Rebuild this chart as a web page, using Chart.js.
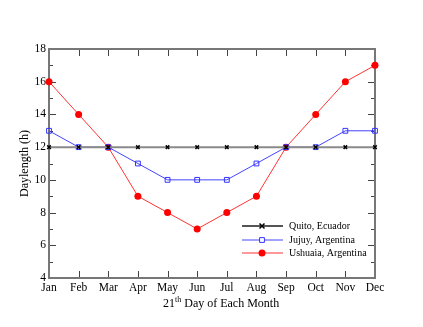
<!DOCTYPE html>
<html>
<head>
  <title>Daylength</title>
  <script src="https://cdn.jsdelivr.net/npm/chart.js"></script>
  <style>
    body { margin: 0; background: white; }
    canvas { display: block; }
  </style>
</head>
<body>
<canvas id="dayChart" width="423" height="327"></canvas>

<script>
const months = ['Jan','Feb','Mar','Apr','May','Jun','Jul','Aug','Sep','Oct','Nov','Dec'];
const quito = [12,12,12,12,12,12,12,12,12,12,12,12];
const jujuy = [13,12,12,11,10,10,10,11,12,12,13,13];
const ushuaia = [16,14,12,9,8,7,8,9,12,14,16,17];
const yTicks = [4,6,8,10,12,14,16,18];

const serif = '"Liberation Serif", "Times New Roman", serif';

// frame + inward ticks, drawn under the data
const framePlugin = {
  id: 'frame',
  beforeDatasetsDraw(chart) {
    const ctx = chart.ctx, a = chart.chartArea;
    const x = chart.scales.x, y = chart.scales.y;
    ctx.save();
    ctx.strokeStyle = '#444';
    ctx.lineWidth = 1;
    ctx.beginPath();
    for (let v = 4; v <= 18; v++) {
      const len = v % 2 === 0 ? 7 : 4;
      const py = Math.round(y.getPixelForValue(v)) + 0.5;
      ctx.moveTo(a.left, py); ctx.lineTo(a.left + len, py);
      ctx.moveTo(a.right, py); ctx.lineTo(a.right - len, py);
    }
    months.forEach((m, i) => {
      const px = Math.round(x.getPixelForValue(i)) + 0.5;
      ctx.moveTo(px, a.bottom); ctx.lineTo(px, a.bottom - 7);
      ctx.moveTo(px, a.top); ctx.lineTo(px, a.top + 7);
    });
    ctx.stroke();
    ctx.strokeStyle = '#777';
    ctx.lineWidth = 2;
    ctx.strokeRect(a.left, a.top, a.right - a.left, a.bottom - a.top);
    ctx.restore();
  },
  afterDraw(chart) {
    const ctx = chart.ctx, a = chart.chartArea;
    ctx.save();
    ctx.fillStyle = '#000';
    // y title
    ctx.font = '12px ' + serif;
    ctx.textAlign = 'center';
    ctx.textBaseline = 'middle';
    ctx.translate(25, (a.top + a.bottom) / 2);
    ctx.rotate(-Math.PI / 2);
    ctx.fillText('Daylength (h)', 0, 0);
    ctx.setTransform(1, 0, 0, 1, 0, 0);
    // x title with superscript
    ctx.textAlign = 'left';
    ctx.textBaseline = 'alphabetic';
    const base = 307;
    let px = 163;
    ctx.font = '12px ' + serif;
    ctx.fillText('21', px, base);
    px += ctx.measureText('21').width;
    ctx.font = '8px ' + serif;
    ctx.fillText('th', px, base - 5);
    px += ctx.measureText('th').width;
    ctx.font = '12px ' + serif;
    ctx.fillText(' Day of Each Month', px, base);
    // legend
    ctx.font = '10px ' + serif;
    ctx.textBaseline = 'middle';
    const rows = [226, 240, 253];
    chart.data.datasets.forEach((ds, i) => {
      const ly = rows[i];
      ctx.strokeStyle = ds.legendLine;
      ctx.lineWidth = ds.borderWidth;
      ctx.beginPath();
      ctx.moveTo(242, ly); ctx.lineTo(283, ly);
      ctx.stroke();
      ctx.fillStyle = ds.pointBackgroundColor;
      ctx.strokeStyle = ds.pointBorderColor;
      ctx.lineWidth = ds.pointBorderWidth;
      ctx.beginPath();
      if (ds.pointStyle === 'circle') {
        ctx.arc(262, ly, ds.pointRadius, 0, Math.PI * 2);
        ctx.fill();
      } else if (ds.pointStyle === 'rect') {
        const s = ds.pointRadius * Math.SQRT1_2;
        ctx.fillStyle = '#fff';
        ctx.rect(262 - s, ly - s, 2 * s, 2 * s);
        ctx.fill();
        ctx.stroke();
      } else {
        const s = ds.pointRadius;
        ctx.moveTo(262 - s, ly - s); ctx.lineTo(262 + s, ly + s);
        ctx.moveTo(262 + s, ly - s); ctx.lineTo(262 - s, ly + s);
        ctx.stroke();
      }
      ctx.fillStyle = '#000';
      ctx.fillText(ds.label, 289, ly);
    });
    ctx.restore();
  }
};

new Chart(document.getElementById('dayChart'), {
  type: 'line',
  data: {
    labels: months,
    datasets: [
      {
        label: 'Quito, Ecuador', data: quito,
        borderColor: '#8a8a8a', legendLine: '#555', borderWidth: 2,
        pointStyle: 'crossRot', pointRadius: 2.5, pointBorderWidth: 1.5,
        pointBorderColor: '#000', pointBackgroundColor: '#000'
      },
      {
        label: 'Jujuy, Argentina', data: jujuy,
        borderColor: '#4444ff', legendLine: '#4444ff', borderWidth: 1,
        pointStyle: 'rect', pointRadius: 3.4, pointBorderWidth: 1,
        pointBorderColor: '#3333ff', pointBackgroundColor: 'rgba(255,255,255,0)'
      },
      {
        label: 'Ushuaia, Argentina', data: ushuaia,
        borderColor: '#ff3333', legendLine: '#ff3333', borderWidth: 1,
        pointStyle: 'circle', pointRadius: 3.5, pointBorderWidth: 0,
        pointBorderColor: '#ff0000', pointBackgroundColor: '#ff0000'
      }
    ]
  },
  options: {
    responsive: false,
    animation: false,
    devicePixelRatio: 1,
    layout: { padding: { left: 0, right: 48, top: 49, bottom: 0 } },
    plugins: { legend: { display: false }, tooltip: { enabled: false } },
    elements: { line: { tension: 0 } },
    scales: {
      x: {
        offset: false,
        grid: { display: false, drawTicks: false },
        border: { display: false },
        ticks: { color: '#000', font: { family: serif, size: 11.5 }, padding: 3, maxRotation: 0, autoSkip: false },
        afterFit(s) { s.height = 49; }
      },
      y: {
        min: 4, max: 18,
        grid: { display: false, drawTicks: false },
        border: { display: false },
        afterBuildTicks(s) { s.ticks = yTicks.map(v => ({ value: v })); },
        ticks: { color: '#000', font: { family: serif, size: 11.5 }, padding: 3 },
        afterFit(s) { s.width = 49; }
      }
    }
  },
  plugins: [framePlugin]
});
</script>
</body>
</html>
